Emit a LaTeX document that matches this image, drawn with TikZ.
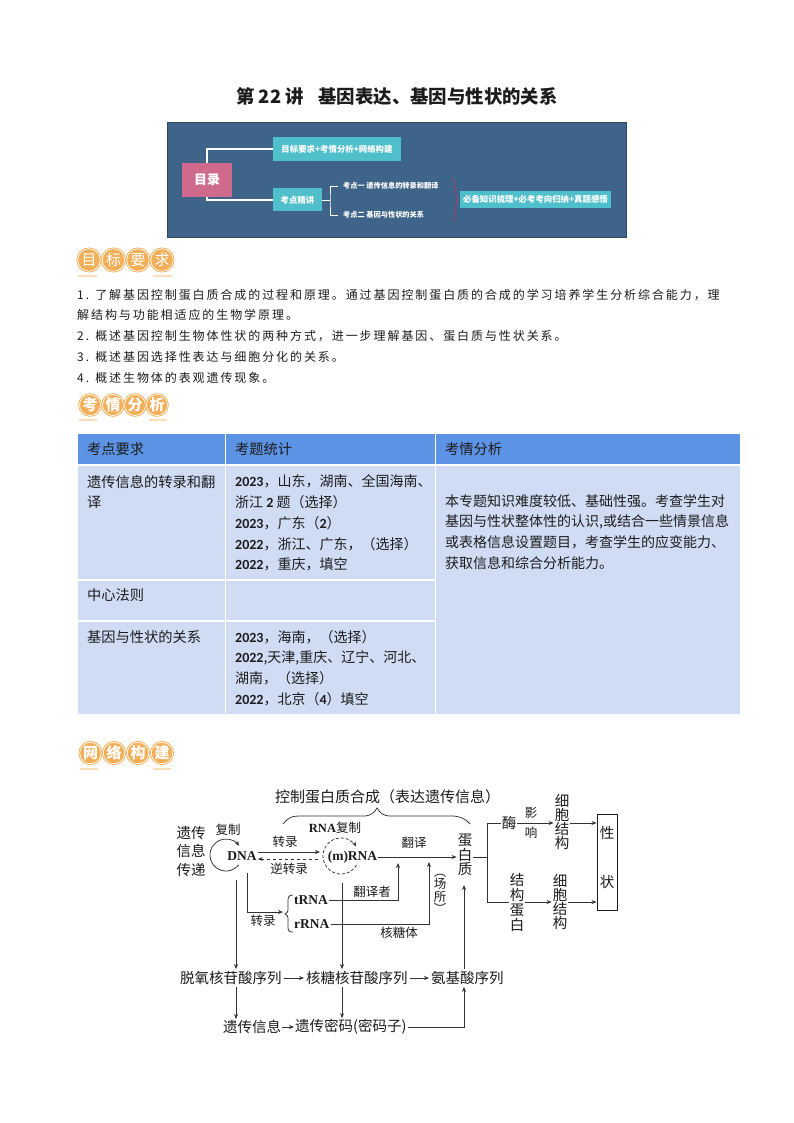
\documentclass[tikz,border=0pt]{standalone}
\usepackage{fontspec}
\setmainfont{Noto Sans CJK SC}
\newfontfamily\serf{Liberation Serif}
\newfontfamily\cali{Carlito}
\usetikzlibrary{arrows.meta,calc}
\definecolor{ink}{HTML}{1C1C1C}
\definecolor{lineink}{HTML}{333333}
\definecolor{panel}{HTML}{3F6489}
\definecolor{panelb}{HTML}{2A4A66}
\definecolor{rosebox}{HTML}{CF6A8C}
\definecolor{cyanbox}{HTML}{4FBFCB}
\definecolor{bracered}{HTML}{A8405C}
\definecolor{badge}{HTML}{F3AE58}
\definecolor{badgeline}{HTML}{F8DDB8}
\definecolor{thead}{HTML}{5C93E4}
\definecolor{tbody}{HTML}{D0DCF4}
\newcommand{\fs}[2]{\fontsize{#1}{#2}\selectfont}
\newcommand{\Y}[1]{{\cali\bfseries #1}}
\newcommand{\bdg}[5]{\node[badgecirc,minimum size=#4] (#1) at (#2,#3) {\fs{15}{15}\bfseries #5};}
\tikzset{
 x=1pt,y=1pt,
 txt/.style={inner sep=0pt,text=ink,anchor=west},
 ctext/.style={inner sep=1pt,text=ink,align=center},
 dia/.style={ctext,font=\fs{14.5}{14.5}},
 serb/.style={ctext,font=\fs{13.5}{15}\serf\bfseries},
 conn/.style={draw=lineink,line width=.75pt},
 arr/.style={conn,-{Stealth[length=5pt,width=4pt]}},
 cell/.style={fill=#1,draw=none},
 wire/.style={draw=white,line width=1.1pt},
 cyanb/.style={fill=cyanbox,text=white,inner sep=0pt,font=\fs{8.4}{9}\bfseries},
 wlabel/.style={text=white,inner sep=0pt,anchor=west,font=\fs{7.2}{8}\bfseries},
 badgecirc/.style={circle,fill=badge,draw=badge,double=white,double distance=.7pt,line width=.9pt,inner sep=0pt,text=white},
 badgebar/.style={draw=badgeline,line width=1.6pt},
 body/.style={txt,font=\fs{12}{12}\addfontfeature{LetterSpace=16}},
 tbl/.style={txt,align=left,font=\fs{14.25}{20.8}},
 tbn/.style={txt,align=left,font=\fs{14}{20.8}},
}
\begin{document}
\begin{tikzpicture}
\useasboundingbox (0,0) rectangle (794,-1123);
\fill[white] (0,0) rectangle (794,-1123);
% title
\node[inner sep=0pt,text=ink,font=\fs{18.4}{18}\bfseries] (title) at (397,-96) {第 22 讲\;\; 基因表达、基因与性状的关系};
% contents panel
\node[draw=panelb,fill=panel,line width=.6pt,minimum width=459,minimum height=115,inner sep=0pt] (panel) at (396.5,-179.5) {};
\node[fill=rosebox,text=white,minimum width=50,minimum height=34,inner sep=0pt,font=\fs{13}{13}\bfseries] (mulu) at (207,-180) {目录};
\node[cyanb,minimum width=128,minimum height=24] (goal) at (337,-149) {目标要求+考情分析+网络构建};
\node[cyanb,minimum width=49,minimum height=23] (kd) at (297.5,-200) {考点精讲};
\draw[wire] (mulu.north) |- (goal.west);
\draw[wire] (mulu.south) |- (kd.west);
\node[wlabel] (k1) at (343,-186) {考点一 遗传信息的转录和翻译};
\node[wlabel] (k2) at (343,-215) {考点二 基因与性状的关系};
\coordinate (fork) at (330,-200);
\draw[draw=white,line width=.9pt] (kd.east) -- (fork);
\draw[draw=white,line width=.9pt] ($(k1.west)+(-5,0)$) -| (fork) |- ($(k2.west)+(-5,0)$);
\node[cyanb,minimum width=151,minimum height=17] (must) at (535.5,-199.5) {必备知识梳理+必考考向归纳+真题感悟};
\draw[draw=bracered,line width=.7pt] (452,-178) .. controls (457,-180) and (454,-196) .. (458,-199.5) .. controls (454,-203) and (457,-219) .. (452,-221);
% badge 1
\bdg{a1}{89}{-260}{22.5}{\mdseries 目}
\bdg{a2}{113.5}{-260}{22.5}{\mdseries 标}
\bdg{a3}{138}{-260}{22.5}{\mdseries 要}
\bdg{a4}{162}{-260}{22.5}{\mdseries 求}
\draw[badgebar] (78,-276) -- (97,-276);
\draw[badgebar] (153,-276) -- (172,-276);
% body
\node[body] (l1) at (77,-295) {1. 了解基因控制蛋白质合成的过程和原理。通过基因控制蛋白质的合成的学习培养学生分析综合能力，理};
\node[body] (l2) at (77,-315) {解结构与功能相适应的生物学原理。};
\node[body] (l3) at (77,-336) {2. 概述基因控制生物体性状的两种方式，进一步理解基因、蛋白质与性状关系。};
\node[body] (l4) at (77,-357) {3. 概述基因选择性表达与细胞分化的关系。};
\node[body] (l5) at (77,-378) {4. 概述生物体的表观遗传现象。};
% badge 2
\bdg{b1}{90}{-405}{21}{考}
\bdg{b2}{113}{-405}{21}{情}
\bdg{b3}{135}{-405}{21}{分}
\bdg{b4}{157}{-405}{21}{析}
\draw[badgebar] (79,-420) -- (97,-420);
\draw[badgebar] (149,-420) -- (167,-420);
% table
\fill[cell=thead] (78,-434) rectangle (224.5,-463.5);
\fill[cell=thead] (226,-434) rectangle (434.5,-463.5);
\fill[cell=thead] (436,-434) rectangle (740,-463.5);
\fill[cell=tbody] (78,-466) rectangle (224.5,-579);
\fill[cell=tbody] (226,-466) rectangle (434.5,-579);
\fill[cell=tbody] (78,-581) rectangle (224.5,-620);
\fill[cell=tbody] (226,-581) rectangle (434.5,-620);
\fill[cell=tbody] (78,-622) rectangle (224.5,-714);
\fill[cell=tbody] (226,-622) rectangle (434.5,-714);
\fill[cell=tbody] (436,-466) rectangle (740,-714);
\node[tbl] (h1) at (87,-449) {考点要求};
\node[tbl] (h2) at (235,-449) {考题统计};
\node[tbl] (h3) at (445,-449) {考情分析};
\node[tbl] (c11) at (87,-492) {遗传信息的转录和翻\\译};
\node[tbn] (c12) at (235,-523) {\Y{2023}，山东，湖南、全国海南、\\浙江 \Y{2} 题（选择）\\\Y{2023}，广东（\Y{2}）\\\Y{2022}，浙江、广东，（选择）\\\Y{2022}，重庆，填空};
\node[tbl] (c21) at (87,-595) {中心法则};
\node[tbl] (c31) at (87,-637) {基因与性状的关系};
\node[tbn] (c32) at (235,-668) {\Y{2023}，海南，（选择）\\\Y{2022},天津,重庆、辽宁、河北、\\湖南，（选择）\\\Y{2022}，北京（\Y{4}）填空};
\node[tbn] (c13) at (445,-532) {本专题知识难度较低、基础性强。考查学生对\\基因与性状整体性的认识,或结合一些情景信息\\或表格信息设置题目，考查学生的应变能力、\\获取信息和综合分析能力。};
% badge 3
\bdg{d1}{90.5}{-753}{21.5}{网}
\bdg{d2}{114}{-753}{21.5}{络}
\bdg{d3}{138}{-753}{21.5}{构}
\bdg{d4}{162}{-753}{21.5}{建}
\draw[badgebar] (80,-769) -- (98,-769);
\draw[badgebar] (153,-769) -- (171,-769);
% network diagram
\node[dia,font=\fs{15}{15}] (top) at (387.5,-797) {控制蛋白质合成（表达遗传信息）};
\draw[conn] (283,-824) .. controls (287,-819) and (291,-816) .. (298,-816) -- (363,-816) .. controls (371,-816) and (374,-813) .. (377,-808) .. controls (380,-813) and (383,-816) .. (391,-816) -- (452,-816) .. controls (460,-816) and (466,-819) .. (470,-824);
\node[dia,align=left,font=\fs{14.5}{18.5}] (chuan) at (191,-851) {遗传\\信息\\传递};
\node[dia,font=\fs{12.5}{13}] (fz) at (228,-830) {复制};
\node[serb] (dna) at (242,-856) {DNA};
\coordinate (loop) at (226,-855);
\draw[arr] ([shift={(-38:16)}]loop) arc (-38:-325:16);
\node[dia,font=\fs{12.5}{13}] (zl) at (285,-842) {转录};
\node[dia,font=\fs{12.5}{13}] (nzl) at (289,-869) {逆转录};
\node[ctext,font=\fs{12.5}{13}] (rf) at (335,-828) {{\serf\bfseries RNA}复制};
\node[serb] (mrna) at (352.5,-857) {(m)RNA};
\coordinate (ring) at (341,-856);
\draw[arr,dashed,dash pattern=on 3pt off 2pt] ([shift={(-30:18)}]ring) arc (-30:-328:18);
\coordinate (ta) at (320,-852);
\coordinate (tb) at (318,-859);
\draw[arr] (dna.east |- ta) -- (ta);
\draw[arr,dashed,dash pattern=on 3.5pt off 2.5pt] (tb) -- (dna.east |- tb);
\node[dia,font=\fs{12.5}{13}] (fy) at (414,-843) {翻译};
\node[dia,font=\fs{14.5}{13.2}] (dbz) at (465,-855) {蛋\\白\\质};
\draw[arr] (mrna.east) -- (dbz.west |- mrna.east);
\node[dia] (mei) at (509,-823) {酶};
\node[dia,font=\fs{12.5}{13}] (ying) at (531,-813) {影};
\node[dia,font=\fs{12.5}{13}] (xiang) at (531,-833) {响};
\node[dia,font=\fs{14.5}{14.2}] (xb1) at (562,-822) {细\\胞\\结\\构};
\node[dia,font=\fs{14.5}{15}] (jg) at (517,-902) {结\\构\\蛋\\白};
\node[dia,font=\fs{14.5}{14.2}] (xb2) at (560,-902) {细\\胞\\结\\构};
\node[draw=ink,line width=.9pt,minimum width=20,minimum height=96,inner sep=0pt] (xz) at (607,-862) {};
\node[dia] (xing) at (607,-833) {性};
\node[dia] (zhuang) at (607,-882) {状};
\coordinate (bus) at (487,-857);
\draw[conn] (dbz.east |- bus) -- (bus);
\draw[conn] (mei.west) -| (bus);
\draw[conn] (bus) |- (jg.west |- 0,-902);
\draw[arr] (mei.east) -- (xb1.west |- mei.east);
\draw[arr] (jg.east |- 0,-902) -- (xb2.west |- 0,-902);
\draw[arr] (xb1.east |- 0,-823) -- (xz.west |- 0,-823);
\draw[arr] (xb2.east) -- (xz.west |- xb2.east);
\node[serb,anchor=west] (trna) at (293,-900) {tRNA};
\node[serb,anchor=west] (rrna) at (293,-924) {rRNA};
\draw[conn] (293,-895) .. controls (288,-895) and (288,-898) .. (288,-902) -- (288,-910) .. controls (288,-912) and (287,-913) .. (285,-914) .. controls (287,-915) and (288,-916) .. (288,-918) -- (288,-927) .. controls (288,-931) and (289,-932) .. (293,-932);
\coordinate (dna2) at (247,-873);
\coordinate (bt) at (283,-912);
\draw[arr] (dna2) |- (bt);
\node[dia,font=\fs{12.5}{13}] (zl2) at (263,-921) {转录};
\node[dia,font=\fs{12.5}{13}] (fyz) at (372,-892) {翻译者};
\node[dia,font=\fs{12.5}{13}] (htt) at (399,-933) {核糖体};
\coordinate (u1) at (398,-863);
\coordinate (u2) at (429,-862);
\draw[arr] (trna.east) -| (u1);
\draw[arr] (rrna.east) -| (u2);
\node[dia,font=\fs{12.5}{12.5}] (cs) at (440,-894) {︵\\场\\所\\︶};
\coordinate (v1) at (236,-880);
\coordinate (v2) at (342,-883);
\coordinate (v3) at (464,-885);
\node[dia,anchor=west,inner sep=2pt] (s1) at (178,-978) {脱氧核苷酸序列};
\node[dia,anchor=west,inner sep=2pt] (s2) at (304,-978) {核糖核苷酸序列};
\node[dia,anchor=west,inner sep=2pt] (s3) at (429,-978) {氨基酸序列};
\node[dia,anchor=west,inner sep=1pt] (g1) at (222,-1027) {遗传信息};
\node[dia,anchor=west,inner sep=1pt] (g2) at (294,-1027) {遗传密码(密码子)};
\draw[arr] (v1) -- (v1 |- s1.north);
\draw[arr] (v2) -- (v2 |- s2.north);
\draw[arr] (v3 |- s3.north) -- (v3);
\draw[arr] (s1.east) -- (s2.west);
\draw[arr] (s2.east) -- (s3.west);
\draw[arr] (v1 |- s1.south) -- (v1 |- g1.north);
\draw[arr] (v2 |- s2.south) -- (v2 |- g2.north);
\draw[arr] (g1.east) -- (g2.west);
\draw[arr] (g2.east) -| (v3 |- s3.south);
\end{tikzpicture}
\end{document}
